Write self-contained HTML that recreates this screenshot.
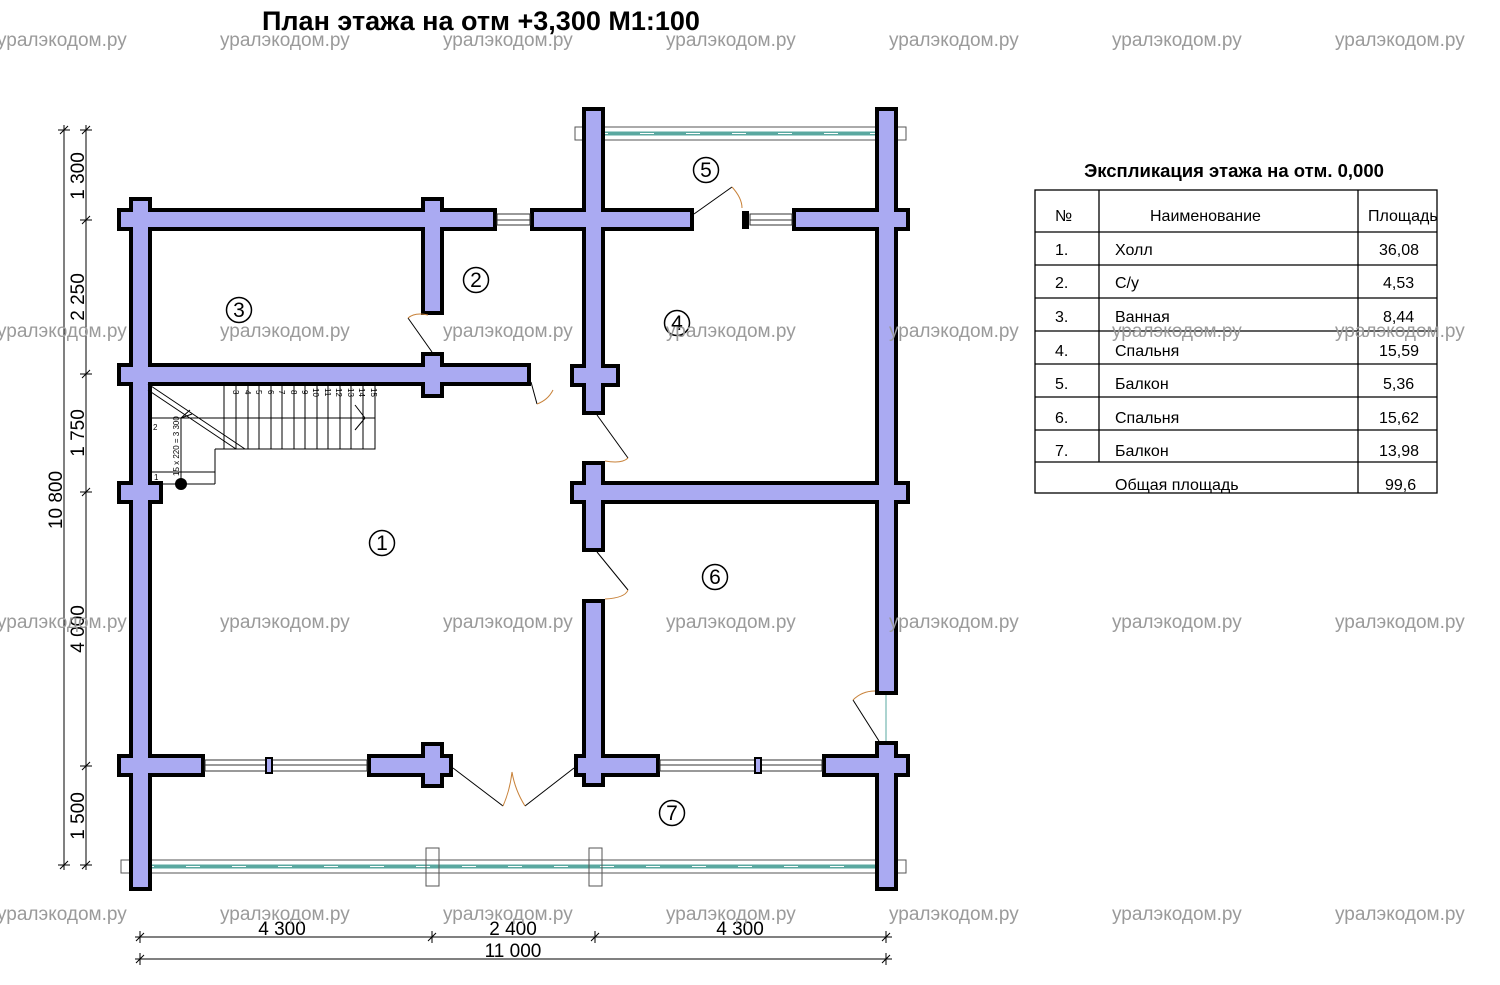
<!DOCTYPE html>
<html><head><meta charset="utf-8"><style>
html,body{margin:0;padding:0;background:#fff;}
svg{display:block;font-family:"Liberation Sans",sans-serif;}
.wm{fill:#9a9a9a;font-size:19px;}
.t{font-size:16px;fill:#000;}
.st{stroke:#000;stroke-width:1;fill:none;}
</style></head><body>
<svg width="1500" height="985" viewBox="0 0 1500 985">
<defs>
<g id="walls">
<rect x="133" y="201" width="15" height="686"/>
<rect x="586" y="111" width="15" height="300"/>
<rect x="586" y="465" width="15" height="83"/>
<rect x="586" y="603" width="15" height="180"/>
<rect x="879" y="111" width="15" height="580"/>
<rect x="879" y="745" width="15" height="142"/>
<rect x="425" y="201" width="15" height="110"/>
<rect x="425" y="356" width="15" height="38"/>
<rect x="425" y="746" width="15" height="38"/>
<rect x="121" y="212" width="372" height="15"/>
<rect x="534" y="212" width="156" height="15"/>
<rect x="796" y="212" width="110" height="15"/>
<rect x="121" y="367" width="406" height="15"/>
<rect x="574" y="368" width="42" height="15"/>
<rect x="121" y="485" width="38" height="15"/>
<rect x="574" y="485" width="332" height="15"/>
<rect x="121" y="758" width="80" height="15"/>
<rect x="371" y="758" width="78" height="15"/>
<rect x="578" y="758" width="78" height="15"/>
<rect x="826" y="758" width="80" height="15"/>
</g>
</defs>
<text x="262" y="30" font-size="27" font-weight="bold">План этажа на отм +3,300 М1:100</text>

<!-- railings -->
<rect x="575" y="127" width="331" height="13" fill="#fff" stroke="#555" stroke-width="1"/>
<line x1="594" y1="133.5" x2="888" y2="133.5" stroke="#5aa8a0" stroke-width="4"/>
<line x1="594" y1="133.5" x2="888" y2="133.5" stroke="#fff" stroke-width="1" stroke-dasharray="14 32"/>
<rect x="121" y="860" width="785" height="13" fill="#fff" stroke="#555" stroke-width="1"/>
<line x1="140" y1="866.5" x2="886" y2="866.5" stroke="#5aa8a0" stroke-width="4"/>
<line x1="140" y1="866.5" x2="886" y2="866.5" stroke="#fff" stroke-width="1" stroke-dasharray="14 32"/>
<rect x="426" y="848" width="13" height="38" fill="none" stroke="#555"/>
<rect x="589" y="848" width="13" height="38" fill="none" stroke="#555"/>

<use href="#walls" fill="#aaaaf2" stroke="#000" stroke-width="8"/>
<use href="#walls" fill="#aaaaf2" stroke="none"/>

<!-- windows -->
<g stroke="#333" stroke-width="1" fill="#fff">
<rect x="497" y="214" width="33" height="11"/><line x1="497" y1="220" x2="530" y2="220"/>
<rect x="750" y="214" width="42" height="11"/><line x1="750" y1="220" x2="792" y2="220"/>
<rect x="205" y="760" width="162" height="11"/><line x1="205" y1="765" x2="367" y2="765"/>
<rect x="660" y="760" width="162" height="11"/><line x1="660" y1="765" x2="822" y2="765"/>
</g>
<rect x="742" y="211" width="7" height="18" fill="#000"/>
<rect x="265" y="757" width="8" height="17" fill="#000"/><rect x="267" y="759" width="4" height="13" fill="#aaaaf2"/>
<rect x="754" y="757" width="8" height="17" fill="#000"/><rect x="756" y="759" width="4" height="13" fill="#aaaaf2"/>
<line x1="886" y1="695" x2="886" y2="741" stroke="#5aa8a0" stroke-width="1"/>

<!-- doors -->
<g class="st">
<line x1="694" y1="214" x2="732" y2="187"/>
<line x1="432" y1="352" x2="408" y2="318"/>
<line x1="531" y1="382" x2="537" y2="404"/>
<line x1="597" y1="415" x2="628" y2="458"/>
<line x1="597" y1="552" x2="628" y2="590"/>
<line x1="879" y1="741" x2="853" y2="700"/>
<line x1="453" y1="768" x2="503" y2="806"/>
<line x1="574" y1="768" x2="525" y2="806"/>
</g>
<g fill="none" stroke="#c8823a" stroke-width="1">
<path d="M732 187 Q742 198 742 208"/>
<path d="M408 318 Q415 312 428 315"/>
<path d="M537 404 Q548 400 553 390"/>
<path d="M628 458 Q622 464 605 461"/>
<path d="M628 590 Q625 598 605 599"/>
<path d="M853 700 Q862 691 875 691"/>
<path d="M503 806 Q510 790 512 772 Q515 790 525 806"/>
</g>

<!-- stairs -->
<g class="st">
<rect x="224" y="384" width="151" height="65"/>
<line x1="149" y1="418" x2="375" y2="418"/>
<line x1="224" y1="449" x2="215" y2="449"/><line x1="215" y1="449" x2="215" y2="484"/><line x1="148" y1="484" x2="215" y2="484"/>
<line x1="148" y1="472" x2="215" y2="472"/>
<line x1="148" y1="384" x2="245" y2="449"/><line x1="148" y1="390" x2="236" y2="449"/>
<line x1="181" y1="484" x2="181" y2="418"/><line x1="181" y1="418" x2="190" y2="410"/><line x1="181" y1="418" x2="192" y2="414"/>
<line x1="365" y1="418" x2="355" y2="405"/><line x1="365" y1="418" x2="355" y2="430"/>
</g>
<g stroke="#000" stroke-width="1">
<line x1="236" y1="384" x2="236" y2="449"/><line x1="248" y1="384" x2="248" y2="449"/><line x1="259" y1="384" x2="259" y2="449"/><line x1="271" y1="384" x2="271" y2="449"/><line x1="282" y1="384" x2="282" y2="449"/><line x1="294" y1="384" x2="294" y2="449"/><line x1="305" y1="384" x2="305" y2="449"/><line x1="317" y1="384" x2="317" y2="449"/><line x1="328" y1="384" x2="328" y2="449"/><line x1="340" y1="384" x2="340" y2="449"/><line x1="351" y1="384" x2="351" y2="449"/><line x1="363" y1="384" x2="363" y2="449"/>
</g>
<g font-size="8">
<text x="233" y="390" transform="rotate(90 233 390)">3</text><text x="245" y="390" transform="rotate(90 245 390)">4</text><text x="256" y="390" transform="rotate(90 256 390)">5</text><text x="268" y="390" transform="rotate(90 268 390)">6</text><text x="279" y="390" transform="rotate(90 279 390)">7</text><text x="291" y="390" transform="rotate(90 291 390)">8</text><text x="302" y="390" transform="rotate(90 302 390)">9</text><text x="313" y="388" transform="rotate(90 313 388)">10</text><text x="325" y="388" transform="rotate(90 325 388)">11</text><text x="336" y="388" transform="rotate(90 336 388)">12</text><text x="348" y="388" transform="rotate(90 348 388)">13</text><text x="359" y="388" transform="rotate(90 359 388)">14</text><text x="371" y="388" transform="rotate(90 371 388)">15</text>
<text x="153" y="430">2</text><text x="154" y="480">1</text>
<text x="179" y="476" transform="rotate(-90 179 476)">15 x 220 = 3 300</text>
</g>
<circle cx="181" cy="484" r="6" fill="#000"/>

<!-- room labels -->
<g font-size="21" text-anchor="middle">
<circle cx="382" cy="543" r="12.5" fill="none" stroke="#000" stroke-width="1.5"/><text x="382" y="550">1</text>
<circle cx="476" cy="280" r="12.5" fill="none" stroke="#000" stroke-width="1.5"/><text x="476" y="287">2</text>
<circle cx="239" cy="310" r="12.5" fill="none" stroke="#000" stroke-width="1.5"/><text x="239" y="317">3</text>
<circle cx="677" cy="323" r="12.5" fill="none" stroke="#000" stroke-width="1.5"/><text x="677" y="330">4</text>
<circle cx="706" cy="170" r="12.5" fill="none" stroke="#000" stroke-width="1.5"/><text x="706" y="177">5</text>
<circle cx="715" cy="577" r="12.5" fill="none" stroke="#000" stroke-width="1.5"/><text x="715" y="584">6</text>
<circle cx="672" cy="813" r="12.5" fill="none" stroke="#000" stroke-width="1.5"/><text x="672" y="820">7</text>
</g>

<!-- dimensions -->
<g stroke="#000" stroke-width="1">
<line x1="64" y1="125" x2="64" y2="870"/><line x1="86" y1="125" x2="86" y2="870"/>
<line x1="58" y1="130" x2="70" y2="130"/><line x1="80" y1="130" x2="92" y2="130"/>
<line x1="80" y1="220" x2="92" y2="220"/><line x1="80" y1="374" x2="92" y2="374"/><line x1="80" y1="492" x2="92" y2="492"/><line x1="80" y1="766" x2="92" y2="766"/>
<line x1="58" y1="865" x2="70" y2="865"/><line x1="80" y1="865" x2="92" y2="865"/>
<line x1="60" y1="134" x2="68" y2="126"/><line x1="82" y1="134" x2="90" y2="126"/><line x1="82" y1="224" x2="90" y2="216"/><line x1="82" y1="378" x2="90" y2="370"/><line x1="82" y1="496" x2="90" y2="488"/><line x1="82" y1="770" x2="90" y2="762"/><line x1="60" y1="869" x2="68" y2="861"/><line x1="82" y1="869" x2="90" y2="861"/>
<line x1="135" y1="937" x2="892" y2="937"/><line x1="135" y1="959" x2="892" y2="959"/>
<line x1="140" y1="931" x2="140" y2="943"/><line x1="432" y1="931" x2="432" y2="943"/><line x1="595" y1="931" x2="595" y2="943"/><line x1="886" y1="931" x2="886" y2="943"/>
<line x1="140" y1="953" x2="140" y2="965"/><line x1="886" y1="953" x2="886" y2="965"/>
<line x1="136" y1="941" x2="144" y2="933"/><line x1="428" y1="941" x2="436" y2="933"/><line x1="591" y1="941" x2="599" y2="933"/><line x1="882" y1="941" x2="890" y2="933"/><line x1="136" y1="963" x2="144" y2="955"/><line x1="882" y1="963" x2="890" y2="955"/>
</g>
<g font-size="19" text-anchor="middle">
<text transform="translate(84 176) rotate(-90)">1 300</text>
<text transform="translate(84 297) rotate(-90)">2 250</text>
<text transform="translate(84 433) rotate(-90)">1 750</text>
<text transform="translate(84 629) rotate(-90)">4 000</text>
<text transform="translate(84 816) rotate(-90)">1 500</text>
<text transform="translate(62 500) rotate(-90)">10 800</text>
<text x="282" y="935">4 300</text><text x="513" y="935">2 400</text><text x="740" y="935">4 300</text>
<text x="513" y="957">11 000</text>
</g>

<!-- table -->
<text x="1234" y="177" font-size="18.5" font-weight="bold" text-anchor="middle">Экспликация этажа на отм. 0,000</text>
<g stroke="#000" stroke-width="1.3" fill="none">
<rect x="1035" y="190" width="402" height="303"/>
<line x1="1099" y1="190" x2="1099" y2="462"/><line x1="1358" y1="190" x2="1358" y2="493"/>
<line x1="1035" y1="232" x2="1437" y2="232"/><line x1="1035" y1="265" x2="1437" y2="265"/><line x1="1035" y1="298" x2="1437" y2="298"/><line x1="1035" y1="331" x2="1437" y2="331"/><line x1="1035" y1="364" x2="1437" y2="364"/><line x1="1035" y1="397" x2="1437" y2="397"/><line x1="1035" y1="430" x2="1437" y2="430"/><line x1="1035" y1="462" x2="1437" y2="462"/>
</g>
<g class="t">
<text x="1055" y="221">№</text><text x="1150" y="221">Наименование</text><text x="1368" y="221">Площадь</text>
<text x="1055" y="255">1.</text><text x="1115" y="255">Холл</text><text x="1379" y="255">36,08</text>
<text x="1055" y="288">2.</text><text x="1115" y="288">С/у</text><text x="1383" y="288">4,53</text>
<text x="1055" y="322">3.</text><text x="1115" y="322">Ванная</text><text x="1383" y="322">8,44</text>
<text x="1055" y="356">4.</text><text x="1115" y="356">Спальня</text><text x="1379" y="356">15,59</text>
<text x="1055" y="389">5.</text><text x="1115" y="389">Балкон</text><text x="1383" y="389">5,36</text>
<text x="1055" y="423">6.</text><text x="1115" y="423">Спальня</text><text x="1379" y="423">15,62</text>
<text x="1055" y="456">7.</text><text x="1115" y="456">Балкон</text><text x="1379" y="456">13,98</text>
<text x="1115" y="490">Общая площадь</text><text x="1385" y="490">99,6</text>
</g>

<!-- watermarks -->
<g class="wm">
<text x="-3" y="46">уралэкодом.ру</text><text x="220" y="46">уралэкодом.ру</text><text x="443" y="46">уралэкодом.ру</text><text x="666" y="46">уралэкодом.ру</text><text x="889" y="46">уралэкодом.ру</text><text x="1112" y="46">уралэкодом.ру</text><text x="1335" y="46">уралэкодом.ру</text>
<text x="-3" y="337">уралэкодом.ру</text><text x="220" y="337">уралэкодом.ру</text><text x="443" y="337">уралэкодом.ру</text><text x="666" y="337">уралэкодом.ру</text><text x="889" y="337">уралэкодом.ру</text><text x="1112" y="337">уралэкодом.ру</text><text x="1335" y="337">уралэкодом.ру</text>
<text x="-3" y="628">уралэкодом.ру</text><text x="220" y="628">уралэкодом.ру</text><text x="443" y="628">уралэкодом.ру</text><text x="666" y="628">уралэкодом.ру</text><text x="889" y="628">уралэкодом.ру</text><text x="1112" y="628">уралэкодом.ру</text><text x="1335" y="628">уралэкодом.ру</text>
<text x="-3" y="920">уралэкодом.ру</text><text x="220" y="920">уралэкодом.ру</text><text x="443" y="920">уралэкодом.ру</text><text x="666" y="920">уралэкодом.ру</text><text x="889" y="920">уралэкодом.ру</text><text x="1112" y="920">уралэкодом.ру</text><text x="1335" y="920">уралэкодом.ру</text>
</g>
</svg>
</body></html>
